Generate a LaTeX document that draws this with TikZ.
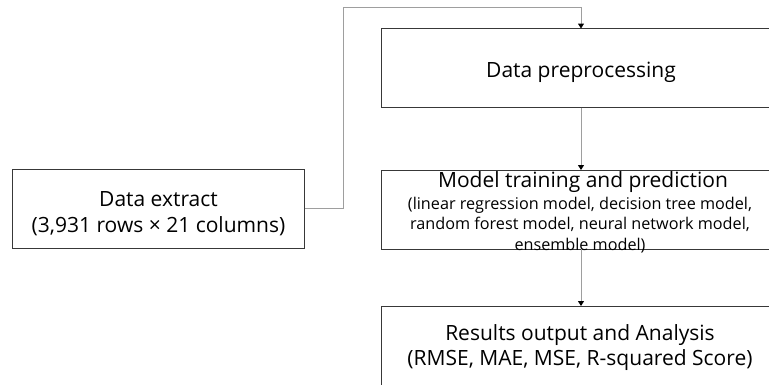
\documentclass[tikz,border=0pt]{standalone}
\usepackage{fontspec}
\setmainfont{Open Sans}
\usetikzlibrary{arrows.meta}
\begin{document}
\begin{tikzpicture}[x=1pt,y=-1pt,
  box/.style={draw=black!78,line width=1pt,inner sep=0pt,outer sep=0pt,minimum width=400pt,minimum height=79pt},
  conn/.style={draw=black!38,line width=1pt,-{Triangle[width=6pt,length=5pt,color=black]}},
  plain/.style={draw=black!38,line width=1pt},
  big/.style={font=\fontsize{21}{25}\selectfont,align=center,inner sep=0pt},
  small/.style={font=\fontsize{16.2}{20.5}\selectfont,align=center,inner sep=0pt}]
\useasboundingbox (0,0) rectangle (769,384);
\clip (0,0) rectangle (769,384);
\node[box,minimum width=292pt] (dx) at (158.5,208.5) {};
\node[box] (pp) at (581,68) {};
\node[box] (mt) at (581,209.5) {};
\node[box] (ro) at (581,345.5) {};
\node[big,anchor=base,font=\fontsize{21}{25.7}\selectfont] (dxt) at (158.5,232) {Data extract\\(3,931 rows × 21 columns)};
\node[big,anchor=base] (ppt) at (581,77.5) {Data preprocessing};
\node[big,anchor=base] (mtt) at (583,187.5) {Model training and prediction};
\node[small,anchor=base] (mts) at (580,250) {(linear regression model, decision tree model,\\random forest model, neural network model,\\ensemble model)};
\node[big,anchor=base,font=\fontsize{21}{24.3}\selectfont] (rot) at (580,365) {Results output and Analysis\\(RMSE, MAE, MSE, R-squared Score)};
\coordinate (top) at (343,7.5);
\draw[plain] (dx.east) -| (top);
\draw[conn] (top) -| (pp.north);
\draw[conn] (pp.south) -- (mt.north);
\draw[conn] (mt.south) -- (ro.north);
\end{tikzpicture}
\end{document}
